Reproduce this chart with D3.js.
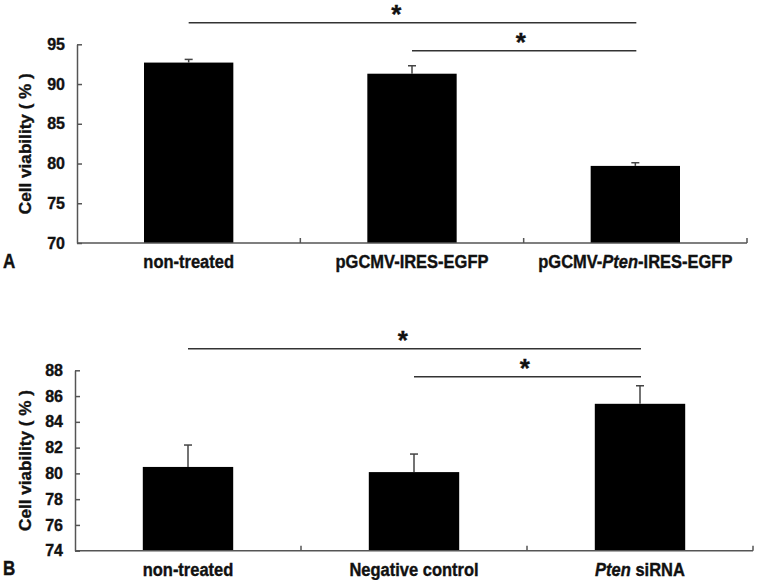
<!DOCTYPE html>
<html>
<head>
<meta charset="utf-8">
<script src="https://cdn.jsdelivr.net/npm/d3@7"></script>
<style>
  html, body { margin: 0; padding: 0; background: #fff; }
  svg { display: block; }
  text { font-family: Arial, "Liberation Sans", sans-serif; font-weight: bold; fill: #111; stroke: #111; stroke-width: 0.35px; }
</style>
</head>
<body>
<svg id="chart" width="757" height="580"></svg>
<script>
// ---------- data ----------
const categoriesA = ["non-treated", "pGCMV-IRES-EGFP", "pGCMV-Pten-IRES-EGFP"];
const labelPartsA = [
  [["non-treated", false]],
  [["pGCMV-IRES-EGFP", false]],
  [["pGCMV-", false], ["Pten", true], ["-IRES-EGFP", false]]
];
const valuesA = [92.7, 91.3, 79.7];
const errorsA = [0.4, 1.0, 0.4];
const ticksA = [70, 75, 80, 85, 90, 95];
const domainA = [70, 95];

const categoriesB = ["non-treated", "Negative control", "Pten siRNA"];
const labelPartsB = [
  [["non-treated", false]],
  [["Negative control", false]],
  [["Pten", true], [" siRNA", false]]
];
const valuesB = [80.5, 80.1, 85.4];
const errorsB = [1.7, 1.4, 1.4];
const ticksB = [74, 76, 78, 80, 82, 84, 86, 88];
const domainB = [74, 88];

// significance comparisons: [from index, to index, label, position along bracket]
const comparisonsA = [[0, 2, "*", 0.465], [1, 2, "*", 0.487]];
const comparisonsB = [[0, 2, "*", 0.475], [1, 2, "*", 0.49]];

const yTitle = "Cell viability ( % )";

// ---------- drawing ----------
const svg = d3.select("#chart");

function drawPanel(cfg) {
  const g = svg.append("g");
  const x = d3.scaleBand().domain(cfg.categories).range([cfg.left, cfg.right])
    .paddingInner(0.6).paddingOuter(0.3);
  const y = d3.scaleLinear().domain(cfg.domain).range([cfg.bottom, cfg.top]);
  const axisColor = "#555";

  // bars
  g.selectAll("rect.bar").data(cfg.values).enter().append("rect")
    .attr("x", (d, i) => x(cfg.categories[i]))
    .attr("width", x.bandwidth())
    .attr("y", d => y(d))
    .attr("height", d => y(cfg.domain[0]) - y(d))
    .attr("fill", "#000");

  // error bars (upper only)
  cfg.values.forEach((v, i) => {
    const cx = x(cfg.categories[i]) + x.bandwidth() / 2;
    g.append("line").attr("x1", cx).attr("x2", cx)
      .attr("y1", y(v)).attr("y2", y(v + cfg.errors[i]))
      .attr("stroke", "#444").attr("stroke-width", 1.5);
    g.append("line").attr("x1", cx - 4).attr("x2", cx + 4)
      .attr("y1", y(v + cfg.errors[i])).attr("y2", y(v + cfg.errors[i]))
      .attr("stroke", "#444").attr("stroke-width", 1.5);
  });

  // y axis
  const yAxis = d3.axisLeft(y).tickValues(cfg.ticks).tickSizeInner(-5).tickSizeOuter(0).tickPadding(12);
  const ya = g.append("g").attr("transform", `translate(${cfg.left},0)`).call(yAxis);
  ya.select(".domain").attr("stroke", axisColor).attr("stroke-width", 1.5);
  ya.selectAll(".tick line").attr("stroke", axisColor).attr("stroke-width", 1.5);
  ya.selectAll(".tick text").attr("font-size", 16).attr("fill", "#111")
    .attr("font-family", "Arial, 'Liberation Sans', sans-serif").attr("font-weight", "bold");

  // x axis line + boundary ticks
  g.append("line").attr("x1", cfg.left).attr("x2", cfg.right)
    .attr("y1", cfg.bottom).attr("y2", cfg.bottom)
    .attr("stroke", axisColor).attr("stroke-width", 1.5);
  cfg.categories.forEach(c => {
    const bx = x(c) + x.bandwidth() / 2 + x.step() / 2;
    g.append("line").attr("x1", bx).attr("x2", bx)
      .attr("y1", cfg.bottom).attr("y2", cfg.bottom - 5)
      .attr("stroke", axisColor).attr("stroke-width", 1.5);
  });

  // category labels
  cfg.labelParts.forEach((parts, i) => {
    const cx = x(cfg.categories[i]) + x.bandwidth() / 2;
    const t = g.append("text")
      .attr("transform", `translate(${cx},${cfg.bottom + 25}) scale(1,1.12)`)
      .attr("text-anchor", "middle").attr("font-size", 16.5);
    parts.forEach(p => {
      t.append("tspan").text(p[0]).attr("font-style", p[1] ? "italic" : "normal");
    });
  });

  // y title
  const ty = g.append("text")
    .attr("text-anchor", "middle").attr("font-size", 16)
    .text(yTitle);
  const len = ty.node().getComputedTextLength();
  const s = 141 / len;
  ty.attr("transform", `translate(${31},${(cfg.top + cfg.bottom) / 2}) scale(1,${s}) rotate(-90)`);

  // panel letter
  g.append("text")
    .attr("transform", `translate(3,${cfg.bottom + 24.5}) scale(1,1.2)`)
    .attr("font-size", 17).text(cfg.letter);

  // significance brackets
  cfg.comparisons.forEach((c, k) => {
    const x1 = x(cfg.categories[c[0]]) + x.bandwidth() / 2;
    const x2 = x(cfg.categories[c[1]]) + x.bandwidth() / 2;
    const ly = k === 0 ? cfg.top - 21.5 : cfg.top + 6.5;
    g.append("line").attr("x1", x1).attr("x2", x2 + 1)
      .attr("y1", ly).attr("y2", ly)
      .attr("stroke", "#333").attr("stroke-width", 1.5);
    g.append("text")
      .attr("x", x1 + (x2 - x1) * c[3])
      .attr("y", ly - 14.5 + 15)
      .attr("text-anchor", "middle").attr("font-size", 26)
      .text(c[2]);
  });
}

drawPanel({
  categories: categoriesA, labelParts: labelPartsA, values: valuesA, errors: errorsA,
  ticks: ticksA, domain: domainA, comparisons: comparisonsA, letter: "A",
  left: 77, right: 747, top: 44.3, bottom: 243
});
drawPanel({
  categories: categoriesB, labelParts: labelPartsB, values: valuesB, errors: errorsB,
  ticks: ticksB, domain: domainB, comparisons: comparisonsB, letter: "B",
  left: 75, right: 753, top: 370.3, bottom: 550.7
});
</script>
</body>
</html>
